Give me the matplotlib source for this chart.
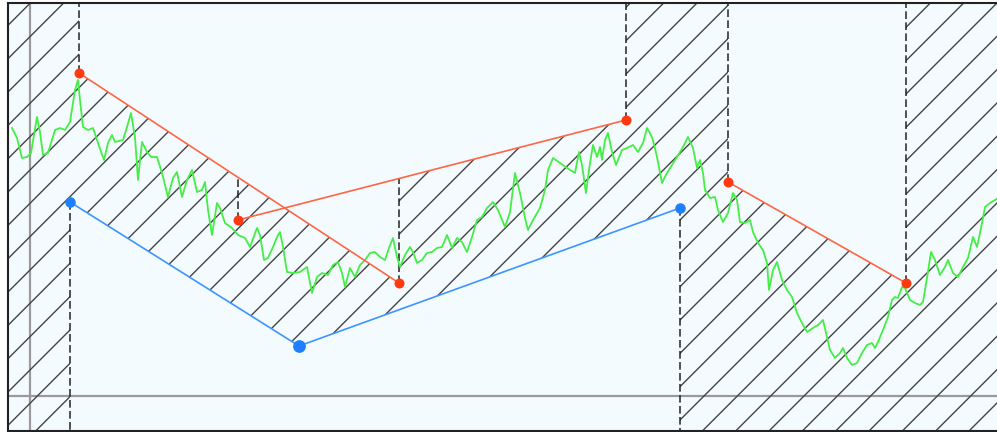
import numpy as np
import matplotlib
matplotlib.use("Agg")
import matplotlib.pyplot as plt

# ---- data (x: bar offset, y: price offset) ----
price_x = [-18, -13, -8, -3, 1, 7, 10, 13, 18, 25, 30, 35, 40, 45, 48, 50, 53, 58, 63, 68,
           74, 78, 82, 85, 93, 97, 101, 105, 108, 112, 117, 121, 127, 132, 138, 143, 147, 152, 157, 162,
           167, 172, 175, 178, 182, 187, 190, 195, 202, 208, 215, 220, 227, 230, 234, 238, 243, 247, 250, 253,
           257, 263, 270, 277, 282, 287, 292, 298, 303, 308, 312, 315, 320, 325, 330, 335, 340, 345, 350, 355,
           359, 363, 367, 370, 375, 380, 383, 387, 392, 397, 402, 407, 412, 417, 422, 427, 432, 437, 442, 447,
           452, 457, 463, 468, 475, 480, 485, 490, 495, 498, 503, 510, 515, 518, 523, 530, 537, 545, 549, 552,
           556, 560, 563, 567, 570, 572, 575, 578, 582, 586, 592, 597, 603, 608, 613, 617, 620, 623, 627, 632,
           637, 642, 647, 653, 658, 663, 667, 670, 673, 675, 680, 685, 688, 693, 698, 703, 707, 710, 715, 720,
           723, 728, 733, 737, 739, 743, 747, 752, 757, 762, 767, 772, 777, 783, 788, 793, 797, 800, 805, 810,
           813, 817, 822, 827, 832, 837, 842, 845, 848, 853, 858, 862, 865, 868, 872, 875, 880, 885, 890, 893,
           897, 901, 905, 910, 915, 918, 923, 928, 933, 938, 943, 947, 950, 953, 955, 960, 965, 968]
price_y = [268, 258, 238, 239, 243, 279, 264, 241, 243, 266, 268, 266, 274, 306, 316, 296, 269, 266, 268, 253,
           236, 253, 261, 254, 256, 269, 283, 259, 216, 254, 244, 239, 239, 223, 199, 218, 224, 199, 216, 226,
           204, 206, 214, 186, 161, 193, 188, 173, 168, 161, 158, 149, 168, 161, 136, 138, 149, 159, 164, 149,
           124, 123, 124, 129, 103, 119, 123, 121, 131, 134, 123, 109, 128, 119, 131, 136, 143, 144, 139, 136,
           148, 158, 139, 129, 141, 149, 144, 133, 136, 143, 144, 148, 149, 161, 148, 158, 154, 144, 159, 176,
           179, 188, 194, 186, 169, 184, 223, 203, 178, 166, 176, 188, 206, 226, 238, 233, 228, 223, 244, 231,
           203, 233, 251, 239, 249, 236, 256, 263, 244, 231, 246, 248, 251, 244, 253, 268, 263, 256, 239, 213,
           223, 231, 239, 249, 259, 248, 228, 236, 223, 206, 198, 199, 186, 174, 183, 203, 196, 174, 173, 176,
           164, 153, 146, 133, 106, 126, 134, 116, 106, 99, 83, 73, 64, 68, 71, 76, 59, 46, 38, 43,
           48, 38, 31, 33, 43, 51, 53, 48, 54, 66, 79, 96, 99, 98, 109, 108, 96, 93, 91, 94,
           118, 144, 136, 121, 129, 136, 123, 119, 129, 138, 159, 149, 163, 178, 189, 193, 196, 198]

# pivot points
peak_labels = ["A", "C", "E", "F", "H", "I"]
peak_x = [49, 208, 369, 596, 698, 876]
peak_y = [323, 176, 113, 276, 214, 113]
trough_labels = ["B", "D", "G"]
trough_x = [40, 269, 650]
trough_y = [194, 50, 188]

X_LIM = (-22, 967)
Y_LIM = (-35, 393)

# ---- figure ----
plt.rcParams["hatch.linewidth"] = 0.5
fig = plt.figure(figsize=(997 / 200, 432 / 200), dpi=200, facecolor="white")
ax = fig.add_axes([8 / 997, 1 / 432, 989 / 997, 428 / 432])
ax.set_facecolor("#F4FBFF")
ax.set_xlim(*X_LIM)
ax.set_ylim(*Y_LIM)
ax.set_xticks([])
ax.set_yticks([])
for s in ["left", "top", "bottom"]:
    ax.spines[s].set_linewidth(0.75)
    ax.spines[s].set_color("#222222")
ax.spines["right"].set_visible(False)

pk = dict(zip(peak_labels, zip(peak_x, peak_y)))
tr = dict(zip(trough_labels, zip(trough_x, trough_y)))
A, C, E, F, H, I = (pk[k] for k in peak_labels)
B, D, G = (tr[k] for k in trough_labels)


def line_at(p, q, x):
    return np.interp(x, [p[0], q[0]], [p[1], q[1]])


xl, xr = X_LIM
yl, yh = Y_LIM
cf_at_e = line_at(C, F, E[0])
ae_at_c = line_at(A, E, C[0])

# zero lines
ax.axvline(0, color="#9a9a9a", lw=0.8, zorder=1)
ax.axhline(0, color="#9a9a9a", lw=0.8, zorder=1)

# hatched region
poly_x = [xl, A[0], A[0], E[0], E[0], F[0], F[0], H[0], H[0], I[0], I[0], xr + 20, xr + 20,
          G[0], G[0], D[0], B[0], B[0], xl]
poly_y = [yh + 10, yh + 10, A[1], E[1], cf_at_e, F[1], yh + 10, yh + 10, H[1], I[1], yh + 10, yh + 10,
          yl - 10, yl - 10, G[1], D[1], B[1], yl - 10, yl - 10]
ax.fill(poly_x, poly_y, facecolor="none", edgecolor="#444444", hatch="//", lw=0, zorder=2)

# dashed guide lines
dash = dict(color="#222222", lw=0.55, ls=(0, (5, 2.2)), zorder=3)
ax.plot([A[0], A[0]], [A[1], yh], **dash)
ax.plot([B[0], B[0]], [B[1], yl], **dash)
ax.plot([C[0], C[0]], [C[1], ae_at_c], **dash)
ax.plot([E[0], E[0]], [E[1], cf_at_e], **dash)
ax.plot([F[0], F[0]], [F[1], yh], **dash)
ax.plot([G[0], G[0]], [G[1], yl], **dash)
ax.plot([H[0], H[0]], [H[1], yh], **dash)
ax.plot([I[0], I[0]], [I[1], yh], **dash)

# price
ax.plot(price_x, price_y, color="#44EE44", lw=0.65, zorder=4)

# trend lines
red_line = "#FF6644"
ax.plot([A[0], E[0]], [A[1], E[1]], color=red_line, lw=0.6, zorder=5)
ax.plot([C[0], F[0]], [C[1], F[1]], color=red_line, lw=0.6, zorder=5)
ax.plot([H[0], I[0]], [H[1], I[1]], color=red_line, lw=0.6, zorder=5)
ax.plot([B[0], D[0], G[0]], [B[1], D[1], G[1]], color="#3D95FF", lw=0.6, zorder=5)

# pivot markers
ax.plot(peak_x, peak_y, "o", color="#FF3A10", ms=3.6, mew=0, zorder=6)
ax.plot(trough_x, trough_y, "o", color="#1E80FF", ms=3.8, mew=0, zorder=6)
ax.plot([D[0]], [D[1]], "o", color="#1E80FF", ms=4.6, mew=0, zorder=6)

fig.savefig("out.png", dpi=200, facecolor="white")
